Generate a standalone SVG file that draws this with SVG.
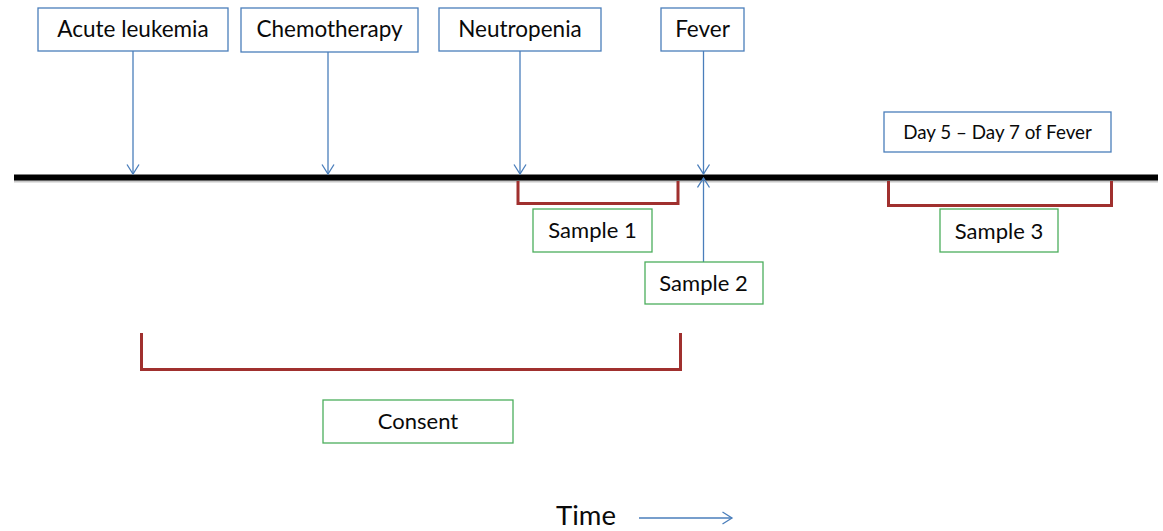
<svg xmlns="http://www.w3.org/2000/svg" width="1163" height="531" viewBox="0 0 1163 531">
<defs>
<marker id="arr" markerUnits="userSpaceOnUse" viewBox="0 0 12 14" refX="10.5" refY="7" markerWidth="12" markerHeight="14" orient="auto">
<path d="M1,1 L10.5,7 L1,13" fill="none" stroke="#4a7ebb" stroke-width="1.3"/>
</marker>
<style>
.bb{fill:#fff;stroke:#4a7ebb;stroke-width:1.3}
.gb{fill:#fff;stroke:#4cae5c;stroke-width:1.3}
.t{font-family:Lato,"Liberation Sans",sans-serif;fill:#0a0a0a;text-anchor:middle}
.c{fill:none;stroke:#4a7ebb;stroke-width:1.3}
.br{fill:none;stroke:#a0302e;stroke-width:3}
</style>
</defs>
<rect width="1163" height="531" fill="#fff"/>
<g id="timeline">
<line x1="14" y1="181" x2="1158" y2="181" stroke="#c8c8c8" stroke-width="3"/>
<line x1="14" y1="177.5" x2="1158" y2="177.5" stroke="#000" stroke-width="6"/>
</g>
<g id="connectors">
<line class="c" x1="133" y1="51" x2="133" y2="174" marker-end="url(#arr)"/>
<line class="c" x1="328" y1="52" x2="328" y2="174" marker-end="url(#arr)"/>
<line class="c" x1="520" y1="51" x2="520" y2="174" marker-end="url(#arr)"/>
<line class="c" x1="703.5" y1="51" x2="703.5" y2="174" marker-end="url(#arr)"/>
<line class="c" x1="703.5" y1="262" x2="703.5" y2="178" marker-end="url(#arr)"/>
<line class="c" x1="639" y1="518" x2="732" y2="518" marker-end="url(#arr)"/>
</g>
<g id="brackets">
<path class="br" d="M518,181 V203.5 H678 V181"/>
<path class="br" d="M888.5,181 V205.5 H1111.5 V181"/>
<path class="br" d="M141.5,333 V369.5 H680.5 V333"/>
</g>
<g id="acute-leukemia">
<rect class="bb" x="38" y="8" width="190" height="43"/>
<text class="t" x="133" y="37" font-size="22.5">Acute leukemia</text>
</g>
<g id="chemotherapy">
<rect class="bb" x="241" y="8" width="177" height="44"/>
<text class="t" x="329.5" y="37" font-size="22.5">Chemotherapy</text>
</g>
<g id="neutropenia">
<rect class="bb" x="439" y="8" width="162" height="43"/>
<text class="t" x="520" y="37" font-size="22.5">Neutropenia</text>
</g>
<g id="fever">
<rect class="bb" x="661" y="8" width="83" height="43"/>
<text class="t" x="702.5" y="37" font-size="22.5">Fever</text>
</g>
<g id="day5-7">
<rect class="bb" x="884" y="112" width="227" height="40"/>
<text class="t" x="997.5" y="138.5" font-size="18.8">Day 5 – Day 7 of Fever</text>
</g>
<g id="sample1">
<rect class="gb" x="533" y="209" width="119" height="43"/>
<text class="t" x="592.5" y="237.5" font-size="22">Sample 1</text>
</g>
<g id="sample2">
<rect class="gb" x="645" y="262" width="118" height="42"/>
<text class="t" x="703.5" y="290.5" font-size="22">Sample 2</text>
</g>
<g id="sample3">
<rect class="gb" x="940" y="209" width="118" height="43"/>
<text class="t" x="999" y="238.5" font-size="22">Sample 3</text>
</g>
<g id="consent">
<rect class="gb" x="323" y="400" width="190" height="43"/>
<text class="t" x="418" y="428.5" font-size="22">Consent</text>
</g>
<g id="time">
<text class="t" x="586" y="525" font-size="27.5">Time</text>
</g>
</svg>
